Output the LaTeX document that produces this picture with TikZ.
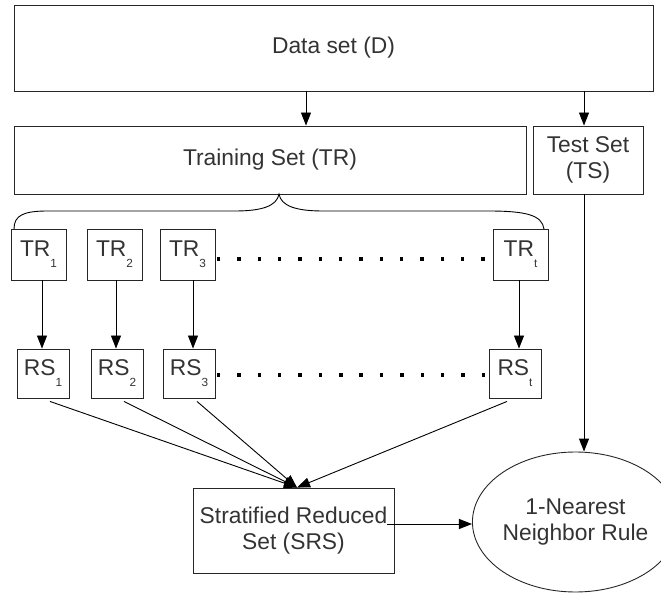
\documentclass[tikz,border=0pt]{standalone}
\usepackage{fontspec}
\setmainfont{Liberation Sans}
\usetikzlibrary{arrows.meta,shapes.geometric}
\definecolor{txt}{RGB}{51,51,51}
% lowered small index, as in TR_1
\newcommand{\lowidx}[1]{\raisebox{-11pt}{\fontsize{11.8}{13}\selectfont #1}}

\begin{document}
\begin{tikzpicture}[x=1pt,y=-1pt,
  box/.style={draw=black!85, line width=0.9pt, inner sep=0pt, align=center,
              text=txt, font=\fontsize{22.8}{26}\selectfont},
  small/.style={box, minimum width=55pt, minimum height=51pt},
  rsbox/.style={box, minimum width=52pt, minimum height=49pt},
  arr/.style={-{Triangle[length=13pt,width=10pt]}, line width=0.9pt},
  link/.style={line width=0.9pt},
  dot/.style={fill=black}]
\useasboundingbox (0,0) rectangle (661,593);

% top level
\node[box, minimum width=639pt, minimum height=86pt] (D) at (333.5,48) {Data set (D)};
\node[box, minimum width=512pt, minimum height=68pt] (TR) at (270,160) {Training Set (TR)};
\node[box, minimum width=110pt, minimum height=68pt] (TS) at (588,160) {Test Set\\(TS)};

% partitions of the training set
\node[small] (TR1) at (38.5,254.5) {TR\lowidx{1}};
\node[small] (TR2) at (114.5,254.5) {TR\lowidx{2}};
\node[small] (TR3) at (187.5,254.5) {TR\lowidx{3}};
\node[small] (TRt) at (520.5,254.5) {TR\lowidx{t}};

% reduced subsets
\node[rsbox] (RS1) at (43,373.5) {RS\lowidx{1}};
\node[rsbox] (RS2) at (117,373.5) {RS\lowidx{2}};
\node[rsbox] (RS3) at (189,373.5) {RS\lowidx{3}};
\node[rsbox] (RSt) at (515,373.5) {RS\lowidx{t}};

% final stage
\node[box, minimum width=201pt, minimum height=85pt] (SRS) at (293.5,530.5) {Stratified Reduced\\Set (SRS)};
\node[box, ellipse, minimum width=165pt, minimum height=140pt] (NN) at (575.5,522) {1-Nearest\\Neighbor Rule};

% splitting D
\draw[arr] ([xshift=36pt]TR.north |- D.south) -- ([xshift=36pt]TR.north);
\draw[arr] ([xshift=-4pt]TS.north |- D.south) -- ([xshift=-4pt]TS.north);

% brace over the partitions
\draw[link] (14,229) .. controls (14,215) and (24,211) .. (48,211)
  -- (235,211) .. controls (262,211) and (277,206) .. (279,194)
  .. controls (281,206) and (296,211) .. (323,211)
  -- (488,211) .. controls (526,211) and (542,215) .. (544,229);

% dotted continuation rows
\foreach \i in {0,...,13} {
  \fill[dot] ({218.5+20.35*\i-1.7},257.3) rectangle ++(3.4,3.4);
  \fill[dot] ({218.7+20.35*\i-1.7},373.3) rectangle ++(3.4,3.4);
}

% TR_i -> RS_i
\draw[arr] ([xshift=3.5pt]TR1.south) -- ([xshift=3.5pt]TR1.south |- RS1.north);
\draw[arr] ([xshift=1.5pt]TR2.south) -- ([xshift=1.5pt]TR2.south |- RS2.north);
\draw[arr] ([xshift=5.5pt]TR3.south) -- ([xshift=5.5pt]TR3.south |- RS3.north);
\draw[arr] ([xshift=-1.5pt]TRt.south) -- ([xshift=-1.5pt]TRt.south |- RSt.north);

% RS_i -> SRS
\draw[arr] ([xshift=7pt,yshift=-3pt]RS1.south) -- ([xshift=3.5pt]SRS.north);
\draw[arr] ([xshift=7pt,yshift=-3pt]RS2.south) -- ([xshift=3.5pt]SRS.north);
\draw[arr] ([xshift=8pt,yshift=-3pt]RS3.south) -- ([xshift=3.5pt]SRS.north);
\draw[arr] ([xshift=-8pt,yshift=-3pt]RSt.south) -- ([xshift=3.5pt]SRS.north);

% into the classifier
\draw[arr] ([xshift=-7pt,yshift=6.5pt]SRS.east) -- ([yshift=-2pt]NN.west);
\draw[arr] ([xshift=-4pt]TS.south) -- ([xshift=-4pt]TS.south |- NN.north);
\end{tikzpicture}
\end{document}
